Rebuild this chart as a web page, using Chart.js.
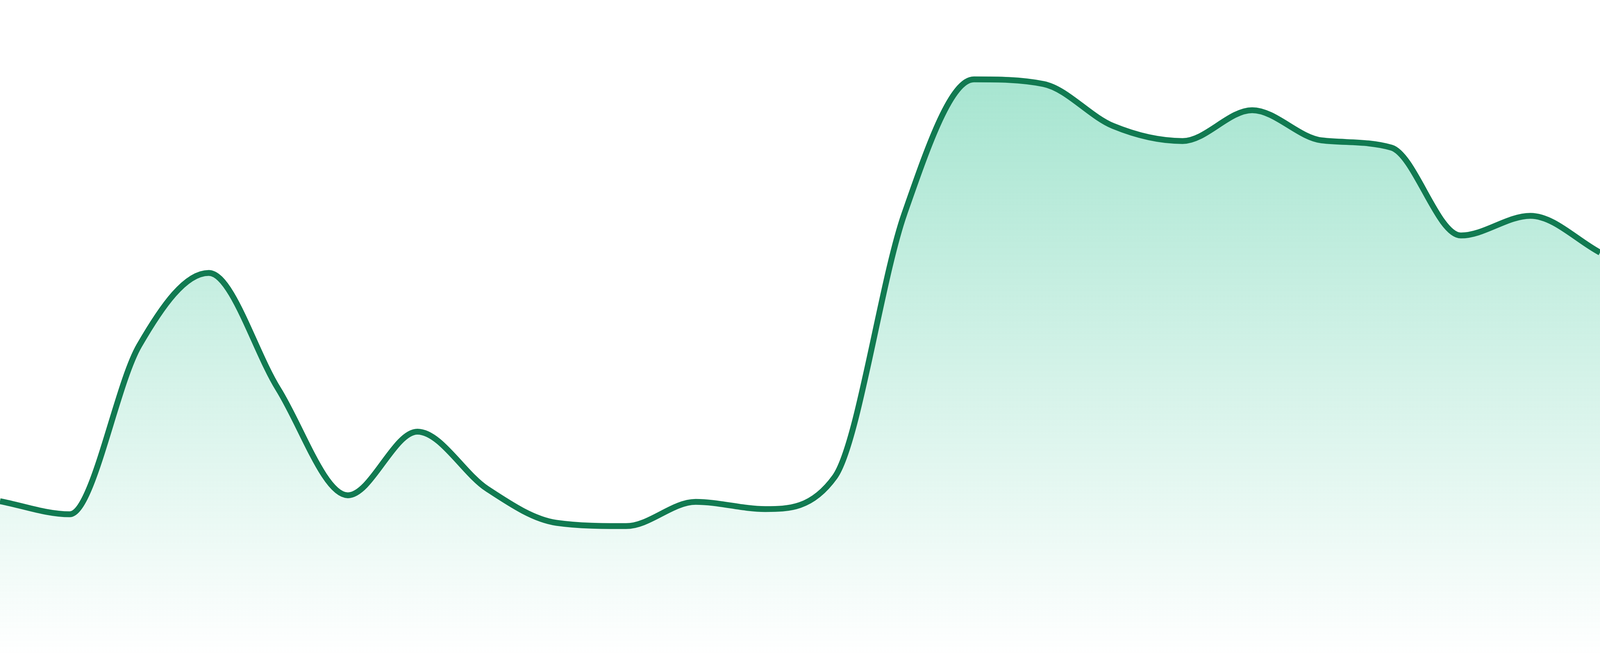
<!DOCTYPE html>
<html>
<head>
<meta charset="utf-8">
<title>Area trend</title>
<script src="https://cdn.jsdelivr.net/npm/chart.js@4"></script>
<style>
  html, body { margin: 0; padding: 0; background: #ffffff; overflow: hidden; }
  .chart-wrap { width: 100vw; height: 100vh; position: relative; }
</style>
</head>
<body>
<div class="chart-wrap"><canvas id="trend-chart"></canvas></div>
<script>
const labels = [
  "1", "2", "3", "4", "5", "6", "7", "8", "9", "10", "11", "12",
  "13", "14", "15", "16", "17", "18", "19", "20", "21", "22", "23", "24",
];

const values = [
  23.6, 21.6, 47.3, 58.4, 40.7, 24.5, 34.2, 25.5, 20.3, 19.8, 23.5, 22.4,
  27.3, 67.4, 87.9, 87.2, 80.8, 78.5, 83.2, 78.6, 77.5, 64.1, 67.1, 61.5,
];

const yMin = 0;
const yMax = 100;

function areaGradient(context) {
  const { chart } = context;
  const { ctx, chartArea } = chart;
  if (!chartArea) return "rgba(16, 185, 129, 0.2)";
  const g = ctx.createLinearGradient(0, chartArea.top, 0, chartArea.bottom);
  g.addColorStop(0, "rgba(16, 185, 129, 0.42)");
  g.addColorStop(1, "rgba(16, 185, 129, 0.0)");
  return g;
}

new Chart(document.getElementById("trend-chart"), {
  type: "line",
  data: {
    labels,
    datasets: [
      {
        data: values,
        borderColor: "#117a51",
        borderWidth: 15,
        backgroundColor: areaGradient,
        fill: "start",
        cubicInterpolationMode: "monotone",
        pointRadius: 0,
        pointHoverRadius: 0,
      },
    ],
  },
  options: {
    responsive: true,
    maintainAspectRatio: false,
    animation: false,
    layout: { padding: 0 },
    plugins: { legend: { display: false }, tooltip: { enabled: false } },
    scales: {
      x: { display: false },
      y: { display: false, min: yMin, max: yMax },
    },
  },
});
</script>
</body>
</html>
